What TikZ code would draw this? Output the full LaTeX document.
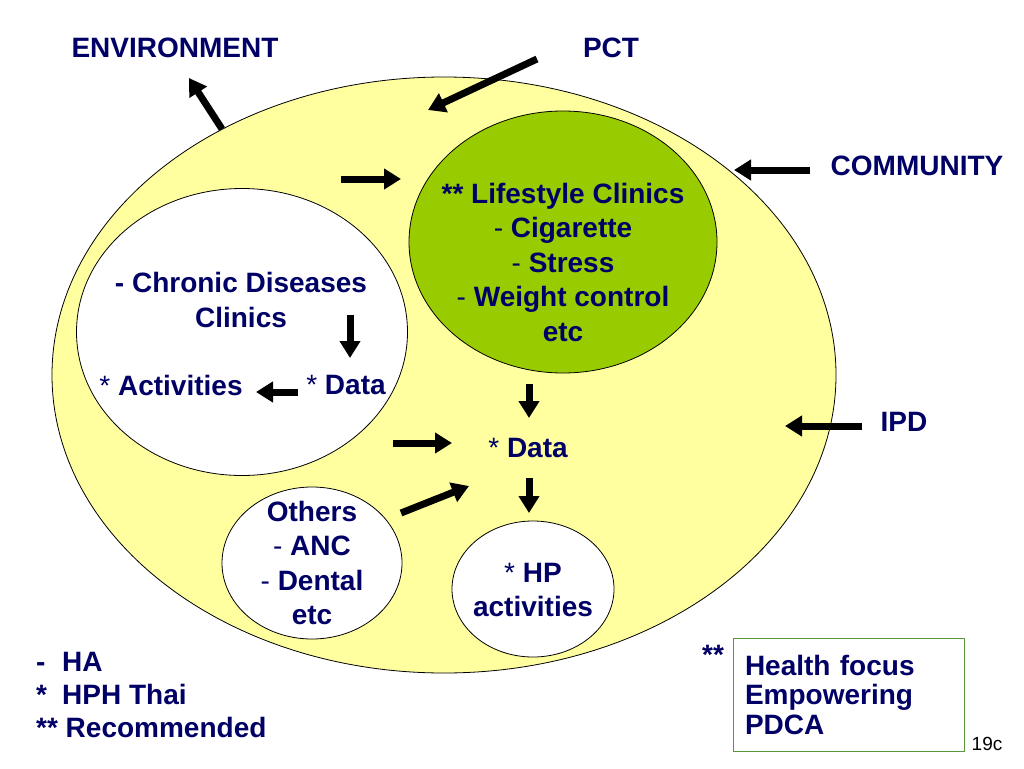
\documentclass[tikz,border=0pt]{standalone}
\usepackage{fontspec}
\setmainfont{Liberation Sans}
\usepackage{xcolor}
\usepackage{tikz}
\usetikzlibrary{arrows.meta, positioning, shapes.geometric}

\definecolor{azul}{RGB}{0,0,102}
\definecolor{amarillo}{RGB}{255,255,160}
\definecolor{verde}{RGB}{153,204,0}
\definecolor{borde}{RGB}{90,150,60}

\newcommand{\guion}{\textmd{-}}

\begin{document}
\begin{tikzpicture}[
    x=1pt, y=-1pt,
    font=\fontsize{28}{34.5}\selectfont\bfseries,
    elipse/.style={draw, ellipse, inner sep=0pt, line width=0.8pt},
    texto/.style={text=azul, align=center, inner sep=0pt},
    flecha/.style={line width=7pt, -{Triangle[length=17pt, width=20pt]}},
    caja/.style={draw=borde, line width=1pt, text=azul, align=left,
                 text width=207pt, inner xsep=12pt, minimum height=113pt,
                 font=\fontsize{28}{29.5}\selectfont\bfseries}
  ]
  \fill[white] (0,0) rectangle (1024,768);
  \useasboundingbox (0,0) rectangle (1024,768);

  % --- Elipses ---
  \node[elipse, fill=amarillo, minimum width=784pt, minimum height=596pt] (hospital) at (444,375) {};
  \node[elipse, fill=verde, minimum width=308pt, minimum height=262pt] (estilo) at (563,242) {};
  \node[elipse, fill=white, minimum width=331pt, minimum height=287pt] (cronica) at (242,332) {};
  \node[elipse, fill=white, minimum width=180pt, minimum height=152pt] (otros) at (312,563) {};
  \node[elipse, fill=white, minimum width=162pt, minimum height=136pt] (hp) at (533,589) {};

  % --- Textos de fuera ---
  \node[texto] (ambiente) at (175,48) {ENVIRONMENT};
  \node[texto] (pct) at (611,48) {PCT};
  \node[texto] (comunidad) at (917,166) {COMMUNITY};
  \node[texto] (ipd) at (904,422) {IPD};

  % --- Textos de dentro ---
  \node[texto] (estilotxt) at (estilo.center) [yshift=-20pt]
    {** Lifestyle Clinics\\ \guion{} Cigarette\\ \guion{} Stress\\ \guion{} Weight control\\ etc};
  \node[texto] (cronicatxt) at (241,300) {- Chronic Diseases\\ Clinics};
  \node[texto] (actividades) at (171,385) {\textmd{*} Activities};
  \node[texto] (cdatos) at (346,385) {\textmd{*} Data};
  \node[texto] (datos) at (528,448) {\textmd{*} Data};
  \node[texto] (otrostxt) at (otros.center) {Others\\ \guion{} ANC\\ \guion{} Dental\\ etc};
  \node[texto] (hptxt) at (533,590) {\textmd{*} HP\\ activities};

  % --- Leyenda y caja ---
  \node[texto, align=left, anchor=west, font=\fontsize{28}{33}\selectfont\bfseries] (leyenda) at (36,695)
    {\makebox[26pt][l]{-}HA\\ \makebox[26pt][l]{*}HPH Thai\\ ** Recommended};
  \node[caja] (enfoque) at (848.5,694.5) {Health focus\\ Empowering\\ PDCA};
  \node[texto, anchor=base west] (marca) at (702,664) {**};
  \node[inner sep=0pt, font=\fontsize{19}{22}\selectfont] (pagina) at (987,744) {19c};

  % --- Extremos de las flechas ---
  \coordinate (amb-a) at (222,129);  \coordinate (amb-b) at (189,78);
  \coordinate (pct-a) at (537,59);   \coordinate (pct-b) at (428,110);
  \coordinate (com-a) at (810,170);  \coordinate (com-b) at (734,170);
  \coordinate (ipd-a) at (862,426);  \coordinate (ipd-b) at (785,426);
  \coordinate (est-a) at (341,179);  \coordinate (est-b) at (401,179);
  \coordinate (cro-a) at (350,315);  \coordinate (cro-b) at (350,358);
  \coordinate (act-a) at (298,392);  \coordinate (act-b) at (256,392);
  \coordinate (dat-a) at (529,384);  \coordinate (dat-b) at (529,418);
  \coordinate (hp-a) at (529,478);   \coordinate (hp-b) at (529,513);
  \coordinate (der-a) at (393,443);  \coordinate (der-b) at (452,443);
  \coordinate (otr-a) at (401,513);  \coordinate (otr-b) at (469,486);

  % --- Flechas ---
  \draw[flecha] (amb-a) -- (amb-b);
  \draw[flecha] (pct-a) -- (pct-b);
  \draw[flecha] (com-a) -- (com-b);
  \draw[flecha] (ipd-a) -- (ipd-b);
  \draw[flecha] (est-a) -- (est-b);
  \draw[flecha] (cro-a) -- (cro-b);
  \draw[flecha] (act-a) -- (act-b);
  \draw[flecha] (dat-a) -- (dat-b);
  \draw[flecha] (hp-a) -- (hp-b);
  \draw[flecha] (der-a) -- (der-b);
  \draw[flecha] (otr-a) -- (otr-b);
\end{tikzpicture}
\end{document}
